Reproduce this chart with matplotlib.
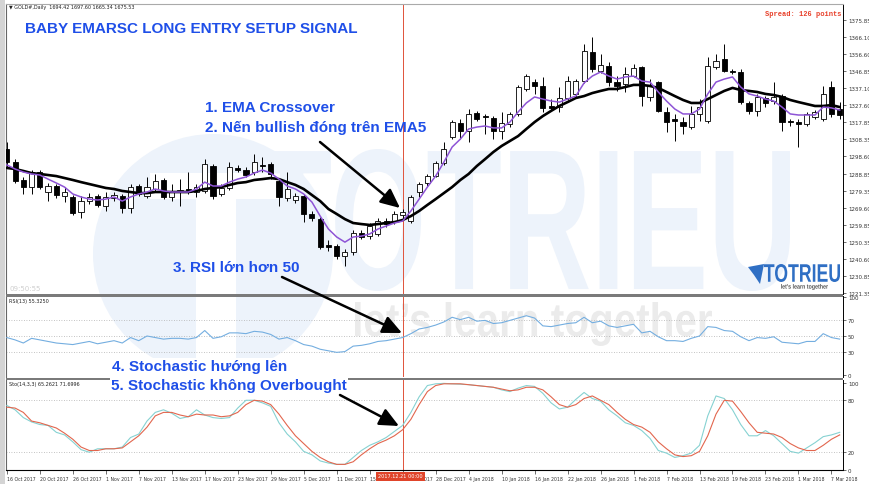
import matplotlib
matplotlib.use('Agg')
import matplotlib.pyplot as plt
from matplotlib.patches import Rectangle, PathPatch, Circle, FancyArrowPatch, Polygon
from matplotlib.textpath import TextPath
from matplotlib.font_manager import FontProperties
from matplotlib.transforms import Affine2D
import numpy as np

W, H = 870, 485

# ---- GOLD daily candles (16 Oct 2017 -> 8 Mar 2018) ----
opens = [1302.8, 1295.4, 1285.3, 1281.3, 1289.8, 1278.5, 1281.9, 1276.2, 1275.7, 1267.2,
         1273.4, 1276.2, 1270.6, 1275.1, 1276.2, 1269.5, 1281.9, 1276.2, 1280.2, 1285.3,
         1275.7, 1278.5, 1280.2, 1278.5, 1279.1, 1293.2, 1277.4, 1280.8, 1292.1, 1290.9,
         1289.8, 1293.8, 1294.3, 1284.7, 1275.1, 1274.0, 1276.2, 1266.1, 1263.2, 1248.6,
         1248.0, 1242.3, 1244.6, 1255.3, 1253.6, 1254.8, 1262.1, 1261.5, 1265.5, 1262.1,
         1278.5, 1283.6, 1287.5, 1294.9, 1309.6, 1317.5, 1313.0, 1323.1, 1321.4, 1320.3,
         1313.0, 1316.9, 1322.6, 1336.7, 1340.6, 1338.4, 1327.1, 1326.5, 1331.6, 1333.9,
         1341.2, 1357.6, 1346.9, 1349.7, 1340.6, 1339.5, 1344.0, 1349.1, 1332.2, 1340.6,
         1323.7, 1319.7, 1318.0, 1315.2, 1322.6, 1318.6, 1349.1, 1353.6, 1346.9, 1346.3,
         1328.8, 1324.3, 1331.6, 1329.9, 1332.7, 1318.6, 1318.0, 1316.9, 1320.9, 1319.7,
         1337.8, 1325.4]
highs = [1306.7, 1297.1, 1287.0, 1290.9, 1290.9, 1283.6, 1283.0, 1281.3, 1276.8, 1276.2,
         1277.9, 1277.4, 1278.5, 1278.5, 1277.4, 1283.0, 1283.0, 1287.0, 1288.7, 1286.4,
         1283.0, 1285.8, 1289.8, 1283.0, 1297.1, 1294.3, 1283.0, 1295.4, 1293.8, 1292.6,
         1300.0, 1298.3, 1295.4, 1286.4, 1289.8, 1277.9, 1277.4, 1267.8, 1264.4, 1251.4,
         1249.1, 1246.3, 1257.0, 1257.0, 1261.0, 1263.8, 1263.8, 1267.8, 1268.9, 1276.8,
         1284.1, 1288.7, 1296.0, 1306.7, 1319.2, 1319.7, 1325.4, 1324.3, 1322.6, 1321.4,
         1323.7, 1323.7, 1339.0, 1345.2, 1342.3, 1343.5, 1331.0, 1337.8, 1344.0, 1342.3,
         1362.1, 1366.1, 1356.5, 1351.9, 1344.0, 1349.1, 1350.8, 1349.7, 1342.3, 1341.2,
         1326.5, 1322.6, 1320.9, 1327.1, 1331.0, 1354.8, 1356.5, 1362.1, 1348.0, 1348.0,
         1329.9, 1333.9, 1332.7, 1340.6, 1333.9, 1319.7, 1319.7, 1323.7, 1324.8, 1338.4,
         1341.2, 1329.3]
lows = [1292.6, 1283.6, 1277.4, 1277.4, 1280.2, 1273.4, 1275.1, 1272.8, 1265.5, 1263.8,
        1271.7, 1270.0, 1267.8, 1273.4, 1266.6, 1266.6, 1276.2, 1275.1, 1279.1, 1274.5,
        1273.4, 1270.6, 1277.4, 1275.7, 1277.9, 1274.5, 1276.2, 1279.6, 1289.8, 1287.0,
        1288.1, 1289.8, 1285.8, 1270.6, 1273.4, 1272.3, 1261.5, 1262.1, 1246.3, 1245.2,
        1240.6, 1236.7, 1242.9, 1251.9, 1251.9, 1253.6, 1258.7, 1260.4, 1263.8, 1261.0,
        1275.7, 1281.9, 1287.0, 1293.8, 1308.4, 1308.4, 1306.7, 1318.6, 1311.3, 1308.4,
        1308.4, 1315.2, 1321.4, 1335.6, 1333.9, 1323.7, 1324.3, 1323.7, 1330.5, 1332.2,
        1340.1, 1346.3, 1345.7, 1338.4, 1335.6, 1335.0, 1343.5, 1327.1, 1329.9, 1323.7,
        1312.4, 1307.3, 1311.3, 1314.1, 1318.6, 1317.5, 1348.0, 1346.3, 1345.2, 1328.2,
        1322.6, 1321.4, 1326.5, 1328.2, 1313.0, 1315.8, 1303.9, 1315.8, 1319.7, 1318.6,
        1320.9, 1319.7]
closes = [1295.4, 1284.7, 1281.3, 1289.8, 1281.3, 1281.9, 1276.8, 1278.5, 1266.6, 1273.4,
          1275.7, 1271.2, 1275.7, 1276.8, 1269.5, 1281.3, 1277.4, 1281.3, 1284.7, 1275.7,
          1278.5, 1279.6, 1278.5, 1281.3, 1294.3, 1276.2, 1280.8, 1292.6, 1290.9, 1288.1,
          1295.4, 1293.2, 1288.7, 1275.7, 1280.2, 1276.2, 1266.1, 1263.8, 1247.4, 1247.4,
          1242.3, 1244.6, 1255.3, 1253.1, 1259.3, 1262.1, 1260.4, 1266.1, 1267.2, 1275.7,
          1283.0, 1287.5, 1294.9, 1302.8, 1318.0, 1313.0, 1322.6, 1319.7, 1320.9, 1313.0,
          1317.5, 1322.6, 1337.8, 1344.0, 1338.4, 1326.0, 1326.0, 1331.6, 1341.2, 1341.2,
          1358.2, 1348.0, 1350.3, 1340.6, 1338.4, 1345.2, 1348.6, 1332.7, 1338.4, 1324.3,
          1318.0, 1318.6, 1315.8, 1322.6, 1326.5, 1349.7, 1352.5, 1346.9, 1346.3, 1329.3,
          1324.3, 1332.2, 1328.8, 1332.2, 1318.0, 1318.0, 1316.9, 1322.6, 1323.7, 1333.9,
          1322.6, 1322.0]

# slow EMA (black) and EMA5 (purple)
ema_slow = [1292.1, 1291.5, 1290.4, 1289.2, 1288.7, 1288.1, 1287.5, 1286.4, 1285.3, 1284.1,
            1283.0, 1281.9, 1280.8, 1280.2, 1279.1, 1278.5, 1277.9, 1277.9, 1278.5, 1278.5,
            1278.5, 1278.5, 1278.5, 1279.1, 1280.2, 1280.8, 1281.3, 1282.5, 1283.6, 1284.1,
            1285.3, 1285.8, 1286.4, 1285.8, 1284.1, 1282.5, 1280.2, 1276.8, 1273.4, 1268.9,
            1266.1, 1263.2, 1261.0, 1260.4, 1259.9, 1260.4, 1261.0, 1261.5, 1262.7, 1264.9,
            1267.8, 1271.2, 1274.5, 1277.9, 1281.3, 1285.3, 1288.7, 1293.2, 1297.1, 1301.1,
            1304.5, 1307.3, 1310.1, 1314.1, 1318.0, 1321.4, 1324.3, 1327.1, 1329.3, 1331.6,
            1332.7, 1334.4, 1335.6, 1336.7, 1336.7, 1337.8, 1339.0, 1339.0, 1338.4, 1337.3,
            1335.0, 1332.7, 1330.5, 1328.8, 1328.8, 1331.0, 1333.3, 1335.6, 1337.3, 1336.1,
            1335.6, 1335.0, 1333.9, 1333.3, 1332.2, 1330.5, 1329.3, 1328.2, 1327.1, 1327.1,
            1327.6, 1326.5]
ema_fast = [1293.8, 1291.5, 1289.8, 1288.7, 1288.1, 1285.8, 1283.6, 1281.3, 1277.4, 1275.7,
            1274.5, 1274.0, 1274.5, 1275.7, 1273.4, 1275.7, 1277.4, 1278.5, 1280.2, 1279.1,
            1278.5, 1278.5, 1278.5, 1280.2, 1284.1, 1281.9, 1281.9, 1284.1, 1285.8, 1287.0,
            1289.2, 1290.9, 1289.2, 1285.8, 1281.9, 1280.2, 1277.4, 1272.8, 1264.9, 1257.6,
            1253.1, 1250.2, 1253.1, 1253.6, 1254.8, 1257.6, 1259.3, 1261.0, 1262.1, 1267.8,
            1274.5, 1281.3, 1287.5, 1295.4, 1303.9, 1308.4, 1314.1, 1315.2, 1315.8, 1314.7,
            1314.7, 1318.0, 1323.7, 1328.8, 1332.2, 1331.0, 1329.9, 1329.3, 1331.0, 1332.7,
            1340.1, 1344.0, 1346.3, 1344.0, 1342.3, 1343.5, 1344.0, 1341.2, 1340.6, 1335.0,
            1329.9, 1325.4, 1322.6, 1322.6, 1325.4, 1333.9, 1340.6, 1342.3, 1343.5, 1337.8,
            1333.9, 1332.7, 1331.0, 1329.9, 1326.5, 1322.6, 1322.0, 1322.0, 1322.0, 1326.5,
            1326.0, 1324.8]

rsi = [48, 45, 41, 47, 45, 43, 41, 40, 39, 41, 43, 40, 42, 44, 41, 48, 44, 50, 48, 46,
       47, 47, 46, 48, 57, 47, 49, 54, 54, 53, 56, 55, 52, 46, 48, 44, 39, 37, 33, 31,
       29, 30, 37, 38, 40, 43, 44, 46, 48, 53, 59, 61, 64, 68, 74, 71, 74, 69, 70, 66,
       67, 70, 73, 76, 73, 63, 62, 64, 66, 67, 74, 67, 69, 63, 61, 63, 65, 54, 56, 49,
       44, 44, 43, 47, 50, 62, 61, 57, 56, 49, 44, 48, 47, 49, 42, 41, 40, 43, 43, 53,
       48, 46]

stoch_k = [74, 69, 60, 55, 52, 51, 43, 40, 32, 23, 20, 24, 24, 24, 26, 37, 41, 56, 66, 69,
           65, 59, 61, 69, 63, 60, 59, 60, 71, 80, 80, 77, 73, 54, 41, 32, 21, 17, 10, 7.5,
           6, 6, 14, 22, 28, 32, 37, 44, 51, 66, 84, 97, 99, 99.5, 99, 98.5, 98, 97, 96, 95,
           92, 90, 94, 97, 96, 88, 77, 70, 72, 81, 89, 82, 79, 69, 62, 54, 51, 45, 36, 22,
           19, 14, 16, 19, 28, 62, 85, 82, 69, 52, 39, 39, 45, 39, 30, 21, 19, 25, 31, 38,
           40, 43]
stoch_d = [72, 71, 66, 56, 54, 51, 48, 42, 35, 26, 22, 22, 24, 24, 25, 32, 39, 49, 62, 66,
           66, 63, 61, 64, 63, 63, 61, 62, 66, 75, 80, 79, 75, 64, 51, 39, 30, 21, 14, 9,
           6, 6, 9, 17, 24, 30, 34, 39, 46, 58, 75, 90, 97, 99, 99, 99, 98, 97, 96, 95,
           93, 91, 92, 95, 95, 92, 84, 75, 72, 75, 82, 85, 80, 75, 66, 58, 52, 49, 43, 32,
           24, 17, 15, 16, 21, 39, 64, 80, 79, 67, 54, 43, 42, 41, 37, 30, 25, 22, 22, 28,
           35, 40]

date_labels = ['16 Oct 2017', '20 Oct 2017', '26 Oct 2017', '1 Nov 2017', '7 Nov 2017',
               '13 Nov 2017', '17 Nov 2017', '23 Nov 2017', '29 Nov 2017', '5 Dec 2017',
               '11 Dec 2017', '15 Dec 2017', '21 Dec 2017', '28 Dec 2017', '4 Jan 2018',
               '10 Jan 2018', '16 Jan 2018', '22 Jan 2018', '26 Jan 2018', '1 Feb 2018',
               '7 Feb 2018', '13 Feb 2018', '19 Feb 2018', '23 Feb 2018', '1 Mar 2018',
               '7 Mar 2018']
price_ticks = [1375.85, 1366.10, 1356.60, 1346.85, 1337.10, 1327.60, 1317.85, 1308.35,
               1298.60, 1288.85, 1279.35, 1269.60, 1259.85, 1250.35, 1240.60, 1230.85, 1221.35]
rsi_ticks = [100, 70, 50, 30, 0]
sto_ticks = [100, 80, 20, 0]
signal_bar = 48

BLUE = '#1f4fe8'
x = np.arange(len(opens))
o, h, l, c = map(np.array, (opens, highs, lows, closes))

fig = plt.figure(figsize=(W / 100, H / 100), dpi=100)
fig.patch.set_facecolor('white')
pix = Affine2D().scale(1 / W, 1 / H) + fig.transFigure  # pixel coords, origin bottom-left


def box(l_, t_, r_, b_):
    return [l_ / W, 1 - b_ / H, (r_ - l_) / W, (b_ - t_) / H]


def fit_text(s, x0, y0, x1, y1, color, z, family='Liberation Sans', weight='bold'):
    tp = TextPath((0, 0), s, size=100, prop=FontProperties(family=family, weight=weight))
    bb = tp.get_extents()
    tr = Affine2D().translate(-bb.x0, -bb.y0).scale((x1 - x0) / bb.width, (y1 - y0) / bb.height) \
        .translate(x0, H - y1) + pix
    fig.add_artist(PathPatch(tp, transform=tr, fc=color, ec='none', zorder=z))


# watermark
fig.add_artist(Circle((213, H - 255), 120, transform=pix, fc='#edf3fb', ec='none', zorder=-6))
fig.add_artist(Rectangle((150, H - 200), 130, 26, transform=pix, fc='white', ec='none', zorder=-5))
fig.add_artist(Rectangle((196, H - 360), 40, 170, transform=pix, fc='white', ec='none', zorder=-5))
fit_text('TOTRIEU', 258, 150, 790, 292, '#edf3fb', -5)
fit_text('let\u2019s learn together', 355, 303, 712, 347, '#ebebeb', -5)
fig.add_artist(Rectangle((0, 0), 5, H, transform=pix, fc='#d4d4d4', ec='none', zorder=-4))

ax = fig.add_axes(box(6, 5, 843, 295))
rsi_ax = fig.add_axes(box(6, 297, 843, 378))
sto_ax = fig.add_axes(box(6, 381, 843, 471))

for a in (ax, rsi_ax, sto_ax):
    a.set_facecolor('none')
    a.set_xlim(-0.1, 101.4)
    a.yaxis.tick_right()
    a.tick_params(axis='y', labelsize=4, length=2, width=0.5, pad=1.5, colors='#333333')
    for s in ('top', 'bottom'):
        a.spines[s].set_visible(False)
    a.spines['left'].set_color('#666666')
    a.spines['right'].set_color('black')
    a.spines['left'].set_linewidth(0.8)
    a.spines['right'].set_linewidth(0.7)
    a.axvline(signal_bar, color='#e0523a', lw=0.7, zorder=1)

# main candle panel
up = c >= o
ax.vlines(x, l, h, color='black', lw=0.7, zorder=2)
ax.bar(x, np.maximum(np.abs(c - o), 0.15), bottom=np.minimum(o, c), width=0.62,
       color=np.where(up, 'white', 'black'), edgecolor='black', linewidth=0.6, zorder=3)
ax.plot(x, ema_slow, color='black', lw=1.9, zorder=4, solid_capstyle='round')
ax.plot(x, ema_fast, color='#8e54d6', lw=1.1, zorder=5)
ax.set_ylim(1220.9, 1384.7)
ax.set_yticks(price_ticks)
ax.set_yticklabels(['%.2f' % v for v in price_ticks])
ax.set_xticks([])
ax.spines['top'].set_visible(True)
ax.spines['top'].set_color('#aaaaaa')

# RSI panel
rsi_ax.plot(x, rsi, color='#74aee0', lw=0.8, zorder=3)
for v in (70, 50, 30):
    rsi_ax.axhline(v, color='#b0b0b0', ls=(0, (1, 2)), lw=0.6, zorder=1)
rsi_ax.set_ylim(-2.6, 101.3)
rsi_ax.set_yticks(rsi_ticks)
rsi_ax.set_yticklabels([str(v) for v in rsi_ticks])
rsi_ax.set_xticks([])

# Stochastic panel
sto_ax.plot(x, stoch_k, color='#86d2d2', lw=0.8, zorder=3)
sto_ax.plot(x, stoch_d, color='#e2664e', lw=0.8, zorder=4)
for v in (80, 20):
    sto_ax.axhline(v, color='#b0b0b0', ls=(0, (1, 2)), lw=0.6, zorder=1)
sto_ax.set_ylim(-0.5, 103.4)
sto_ax.set_yticks(sto_ticks)
sto_ax.set_yticklabels([str(v) for v in sto_ticks])
sto_ax.spines['bottom'].set_visible(True)
sto_ax.spines['bottom'].set_color('black')
sto_ax.spines['bottom'].set_linewidth(0.8)
sto_ax.set_xticks(range(0, 4 * len(date_labels), 4))
sto_ax.set_xticklabels(date_labels)
sto_ax.tick_params(axis='x', labelsize=3.3, length=3, width=0.5, pad=1.5, colors='#333333')
for lbl in sto_ax.get_xticklabels():
    lbl.set_ha('left')

# panel separators
for yy in (295, 378.5):
    fig.add_artist(Rectangle((6, H - yy - 2.5), 837, 2.5, transform=pix,
                             fc='#7a7a7a', ec='none', zorder=2))

# small texts
fig.text(9 / W, 1 - 8 / H, '\u25bc GOLD#,Daily  1694.42 1697.60 1665.34 1675.53',
         fontsize=3.5, color='#222222', va='center', family='DejaVu Sans')
fig.text(10 / W, 1 - 289 / H, '09:50:55', fontsize=5, color='#cfcfcf', va='center')
fig.text(9 / W, 1 - 301 / H, 'RSI(13) 55.3250', fontsize=3.5, color='#222222', va='center')
fig.text(9 / W, 1 - 385 / H, 'Sto(14,3,3) 65.2621 71.6996', fontsize=3.5, color='#222222',
         va='center')
fig.text(842 / W, 1 - 15 / H, 'Spread: 126 points', fontsize=5, color='#e8402a',
         family='Liberation Mono', weight='bold', ha='right', va='center')
fig.text(400.5 / W, 1 - 477 / H, '2017.12.21 00:00', fontsize=3.6, color='white',
         ha='center', va='center', zorder=6,
         bbox=dict(fc='#e0442a', ec='none', boxstyle='square,pad=0.4'))

# small logo bottom-right of price panel
fig.add_artist(Polygon([(748, H - 268), (764, H - 265), (760, H - 285), (754, H - 276)],
                       closed=True, transform=pix, fc='#2f6fc4', ec='none', zorder=6))
fit_text('TOTRIEU', 764, 265, 840, 283, '#2f6fc4', 6)
fit_text('let\u2019s learn together', 781, 285, 828, 291, '#555555', 6)

# annotations
tfont = dict(family='Liberation Sans', weight='bold', color=BLUE, fontsize=11, va='center')
fig.text(25 / W, 1 - 29 / H, 'BABY EMARSC LONG ENTRY SETUP SIGNAL', **tfont)
fig.text(205 / W, 1 - 108 / H, '1. EMA Crossover', **tfont)
fig.text(205 / W, 1 - 128 / H, '2. N\u1ebfn bullish \u0111\u00f3ng tr\u00ean EMA5', **tfont)
fig.text(173 / W, 1 - 268 / H, '3. RSI l\u1edbn h\u01a1n 50', **tfont)
fig.text(112 / W, 1 - 367 / H, '4. Stochastic h\u01b0\u1edbng l\u00ean', zorder=5,
         bbox=dict(fc='white', ec='none', pad=1.0), **tfont)
fig.text(111 / W, 1 - 386 / H, '5. Stochastic kh\u00f4ng Overbought', zorder=5,
         bbox=dict(fc='white', ec='none', pad=1.0), **tfont)

for (x0, y0), (x1, y1) in [((320, 143), (400, 209)), ((282, 278), (402, 334)),
                           ((340, 396), (399, 427))]:
    fig.add_artist(FancyArrowPatch((x0, H - y0), (x1, H - y1), transform=pix,
                                   arrowstyle='-|>,head_length=1.3,head_width=0.6',
                                   mutation_scale=9, color='black', lw=1.8, zorder=6,
                                   shrinkA=0, shrinkB=0))

fig.savefig('out.png', dpi=100)
